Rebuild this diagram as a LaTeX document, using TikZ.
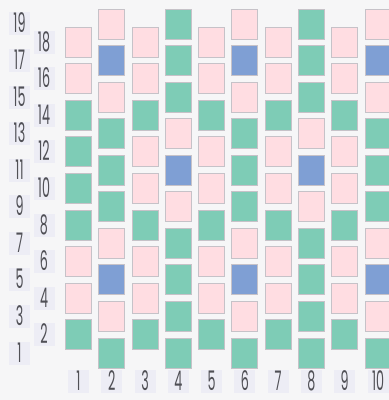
\documentclass[tikz,border=0pt]{standalone}
\usepackage{fontspec}
\setmainfont[FakeStretch=0.47]{Poppins}
\usepackage{xcolor}
\usepackage{tikz}
\definecolor{cellpink}{HTML}{FFDDE2}
\definecolor{cellgreen}{HTML}{7ECCB6}
\definecolor{cellblue}{HTML}{7F9FD4}
\definecolor{celledge}{HTML}{C6C2C8}
\definecolor{numfill}{HTML}{EDEDF5}
\definecolor{numtext}{HTML}{505056}
\definecolor{paper}{HTML}{F6F6F7}

\begin{document}
\begin{tikzpicture}[x=1pt,y=-1pt]
  \tikzstyle{cell}=[draw=celledge,line width=0.9pt,minimum width=26pt,minimum height=30pt,inner sep=0pt]
  \tikzstyle{cellp}=[cell,fill=cellpink]
  \tikzstyle{cellg}=[cell,fill=cellgreen]
  \tikzstyle{cellb}=[cell,fill=cellblue]
  \tikzstyle{num}=[fill=numfill,text=numtext,minimum width=21pt,inner xsep=1pt,inner ysep=2.5pt,
                   text height=18pt,text depth=0pt,font=\fontsize{27}{27}\selectfont]
  \fill[paper] (0,0) rectangle (389,400);
  \useasboundingbox (0,0) rectangle (389,400);
  % cells, column by column from the top row down
  \foreach \c/\top/\list in {1/18/{p,p,g,g,g,g,p,p,g},2/19/{p,b,p,g,g,g,p,b,p,g},
                              3/18/{p,p,g,p,p,g,p,p,g},4/19/{g,g,g,p,b,p,g,g,g,g},
                              5/18/{p,p,g,p,p,g,p,p,g},6/19/{p,b,p,g,g,g,p,b,p,g},
                              7/18/{p,p,g,p,p,g,p,p,g},8/19/{g,g,g,p,b,p,g,g,g,g},
                              9/18/{p,p,g,p,p,g,p,p,g},10/19/{p,b,p,g,g,g,p,b,p,g}}
    \foreach \k [count=\i] in \list {
      \pgfmathtruncatemacro{\r}{\top-2*(\i-1)}
      \node[cell\k] (c\c r\r) at ({78.5+(\c-1)*33.28},{353-(\r-1)*18.28}) {};
    }
  % row numbers
  \foreach \r in {1,...,19} {
    \pgfmathsetmacro{\xr}{ifthenelse(isodd(\r),19.5,44)}
    \node[num] (row\r) at (\xr,{353-(\r-1)*18.28}) {\r};
  }
  % column numbers
  \foreach \c in {1,...,10}
    \node[num] (col\c) at ({78.5+(\c-1)*33.28},381) {\c};
\end{tikzpicture}
\end{document}
